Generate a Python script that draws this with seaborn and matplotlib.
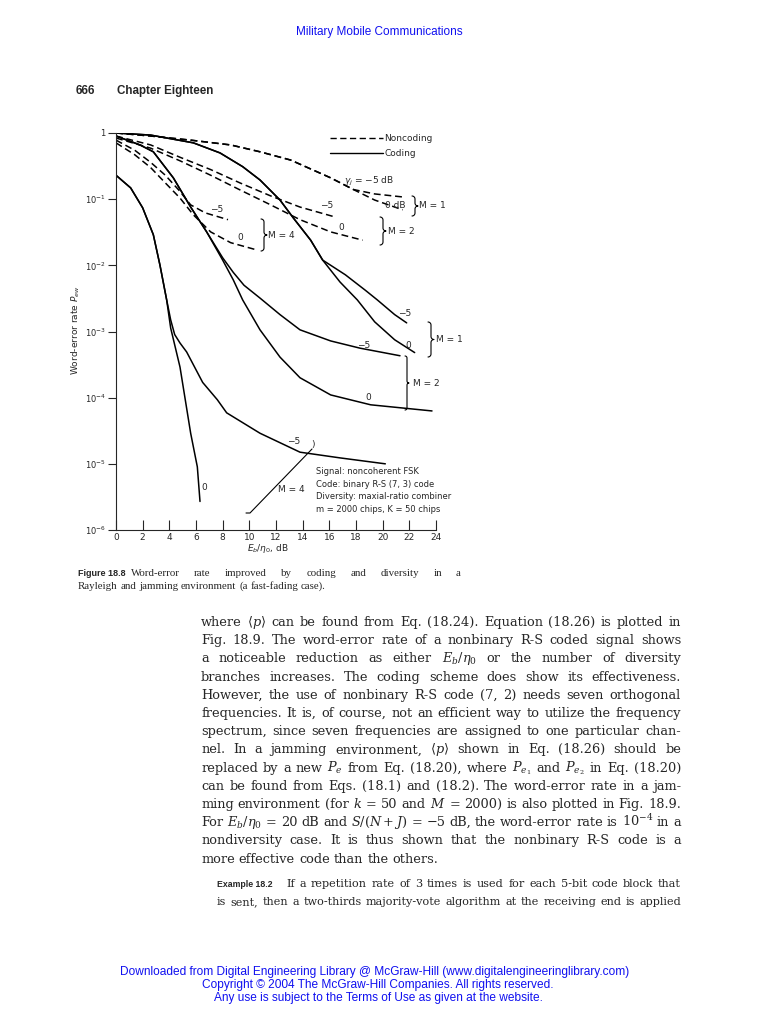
import numpy as np
import pandas as pd
import seaborn as sns
import matplotlib.pyplot as plt
from matplotlib.lines import Line2D
from matplotlib.ticker import NullLocator
from matplotlib.transforms import IdentityTransform

W, H = 757, 1024

# values: Eb/eta0 (dB) vs word-error rate
# noncoding (dashed)
nc_m1_5_x = [0, 2.6, 5.6, 8.6, 10.8, 13.1, 16.1, 17.8, 19.4, 21.5]
nc_m1_5_y = [1.0, 0.90, 0.78, 0.66, 0.52, 0.39, 0.21, 0.14, 0.12, 0.108]
nc_m1_0_x = [0, 2.6, 5.6, 8.6, 10.8, 13.1, 16.1, 17.8, 19.4, 21.5]
nc_m1_0_y = [1.0, 0.90, 0.78, 0.66, 0.52, 0.39, 0.21, 0.14, 0.097, 0.069]
nc_m2_5_x = [0, 2.6, 4.8, 7.1, 9.3, 11.6, 13.8, 16.4]
nc_m2_5_y = [0.90, 0.66, 0.43, 0.28, 0.176, 0.112, 0.076, 0.054]
nc_m2_0_x = [0, 2.6, 4.8, 7.1, 9.3, 11.6, 13.8, 16.1, 18.5]
nc_m2_0_y = [0.84, 0.59, 0.38, 0.23, 0.138, 0.082, 0.049, 0.032, 0.024]
nc_m4_5_x = [0, 1.4, 2.6, 3.7, 4.7, 5.6, 6.7, 8.4]
nc_m4_5_y = [0.78, 0.55, 0.36, 0.23, 0.138, 0.082, 0.062, 0.049]
nc_m4_0_x = [0, 1.4, 2.6, 3.7, 4.8, 5.8, 7.1, 8.6, 10.6]
nc_m4_0_y = [0.71, 0.47, 0.30, 0.176, 0.104, 0.058, 0.032, 0.022, 0.017]

# coding (solid)
c_m1_5_x = [0, 2.6, 5.8, 7.8, 9.5, 10.8, 12.3, 13.3, 14.6, 15.5, 17.2, 18.7, 19.6, 20.9, 21.8]
c_m1_5_y = [1.0, 0.93, 0.71, 0.50, 0.31, 0.195, 0.097, 0.052, 0.024, 0.012,
            7.2e-3, 4.2e-3, 3.0e-3, 1.8e-3, 1.35e-3]
c_m1_0_x = [0, 2.6, 5.8, 7.8, 9.5, 10.8, 12.3, 13.3, 14.6, 15.5, 16.8, 18.1, 19.4, 20.9, 22.4]
c_m1_0_y = [1.0, 0.93, 0.71, 0.50, 0.31, 0.195, 0.097, 0.052, 0.024, 0.012,
            5.6e-3, 3.0e-3, 1.4e-3, 7.5e-4, 4.8e-4]
c_m2_5_x = [0, 1.8, 2.8, 4.3, 5.6, 6.8, 8.0, 8.8, 9.6, 10.8, 12.3, 13.8, 16.1, 18.3, 21.3]
c_m2_5_y = [0.90, 0.66, 0.52, 0.21, 0.076, 0.032, 0.013, 7.8e-3, 5.0e-3, 3.2e-3, 1.8e-3,
            1.06e-3, 7.2e-4, 5.6e-4, 4.3e-4]
c_m2_0_x = [0, 1.8, 2.8, 4.3, 5.6, 6.8, 8.0, 8.8, 9.5, 10.8, 12.3, 13.8, 16.1, 19.1, 23.7]
c_m2_0_y = [0.90, 0.66, 0.52, 0.21, 0.076, 0.032, 0.012, 6.0e-3, 3.0e-3, 1.06e-3, 4.1e-4,
            2.0e-4, 1.1e-4, 7.8e-5, 6.3e-5]
c_m4_5_x = [0, 1.1, 2.0, 2.8, 3.3, 3.8, 4.1, 4.4, 4.8, 5.3, 6.5, 7.6, 8.3, 10.8, 13.8, 16.8, 20.2]
c_m4_5_y = [0.23, 0.148, 0.074, 0.029, 0.010, 3.0e-3, 1.5e-3, 9.0e-4, 6.7e-4, 4.9e-4, 1.7e-4,
            9.3e-5, 5.9e-5, 2.9e-5, 1.5e-5, 1.23e-5, 1.0e-5]
c_m4_0_x = [0, 1.1, 2.0, 2.8, 3.3, 3.8, 4.1, 4.8, 5.6, 6.1, 6.3]
c_m4_0_y = [0.23, 0.148, 0.074, 0.029, 0.010, 3.0e-3, 1.13e-3, 2.9e-4, 2.9e-5, 9.0e-6, 2.7e-6]

xticks = [0, 2, 4, 6, 8, 10, 12, 14, 16, 18, 20, 22, 24]
yticks = [1, 1e-1, 1e-2, 1e-3, 1e-4, 1e-5, 1e-6]
ytick_labels = ["1", "$10^{-1}$", "$10^{-2}$", "$10^{-3}$", "$10^{-4}$", "$10^{-5}$", "$10^{-6}$"]

info_lines = ["Signal: noncoherent FSK",
              "Code: binary R-S (7, 3) code",
              "Diversity: maxial-ratio combiner",
              "m = 2000 chips, K = 50 chips"]

body_lines = [
    r"where $\langle{p}\rangle$ can be found from Eq. (18.24). Equation (18.26) is plotted in",
    "Fig. 18.9. The word-error rate of a nonbinary R-S coded signal shows",
    r"a noticeable reduction as either $E_b/\eta_0$ or the number of diversity",
    "branches increases. The coding scheme does show its effectiveness.",
    "However, the use of nonbinary R-S code (7, 2) needs seven orthogonal",
    "frequencies. It is, of course, not an efficient way to utilize the frequency",
    "spectrum, since seven frequencies are assigned to one particular chan-",
    r"nel. In a jamming environment, $\langle{p}\rangle$ shown in Eq. (18.26) should be",
    r"replaced by a new $P_e$ from Eq. (18.20), where $P_{e_1}$ and $P_{e_2}$ in Eq. (18.20)",
    "can be found from Eqs. (18.1) and (18.2). The word-error rate in a jam-",
    "ming environment (for $k$ = 50 and $M$ = 2000) is also plotted in Fig. 18.9.",
    r"For $E_b/\eta_0$ = 20 dB and $S/(N+J)$ = −5 dB, the word-error rate is $10^{-4}$ in a",
    "nondiversity case. It is thus shown that the nonbinary R-S code is a",
    "more effective code than the others.",
]

curves = {
    "nc_m1_5": (nc_m1_5_x, nc_m1_5_y, "Noncoding"),
    "nc_m1_0": (nc_m1_0_x, nc_m1_0_y, "Noncoding"),
    "nc_m2_5": (nc_m2_5_x, nc_m2_5_y, "Noncoding"),
    "nc_m2_0": (nc_m2_0_x, nc_m2_0_y, "Noncoding"),
    "nc_m4_5": (nc_m4_5_x, nc_m4_5_y, "Noncoding"),
    "nc_m4_0": (nc_m4_0_x, nc_m4_0_y, "Noncoding"),
    "c_m1_5": (c_m1_5_x, c_m1_5_y, "Coding"),
    "c_m1_0": (c_m1_0_x, c_m1_0_y, "Coding"),
    "c_m2_5": (c_m2_5_x, c_m2_5_y, "Coding"),
    "c_m2_0": (c_m2_0_x, c_m2_0_y, "Coding"),
    "c_m4_5": (c_m4_5_x, c_m4_5_y, "Coding"),
    "c_m4_0": (c_m4_0_x, c_m4_0_y, "Coding"),
}
rows = []
for name, (xs, ys, kind) in curves.items():
    for x, y in zip(xs, ys):
        rows.append((x, y, name, kind))
df = pd.DataFrame(rows, columns=["ebno", "pew", "curve", "kind"])

sns.set_style("ticks")
plt.rcParams["font.family"] = ["DejaVu Sans"]
plt.rcParams["mathtext.fontset"] = "dejavusans"

fig = plt.figure(figsize=(W / 100, H / 100), dpi=100)
fig.patch.set_facecolor("white")
ax = fig.add_axes([116 / W, 1 - 530 / H, 320 / W, 397 / H])
ax.set_yscale("log")

dash = (4.5, 2.5)
sns.lineplot(data=df, x="ebno", y="pew", units="curve", estimator=None, style="kind",
             dashes={"Noncoding": dash, "Coding": ""}, color="black", lw=1.1,
             legend=False, sort=False, ax=ax)

ax.set_xlim(0, 24)
ax.set_ylim(1e-6, 1)
ax.set_xticks(xticks)
ax.set_yticks(yticks, ytick_labels)
ax.yaxis.set_minor_locator(NullLocator())
ax.tick_params(axis="x", direction="in", length=7, width=0.8, labelsize=6.5, pad=2)
ax.tick_params(axis="y", direction="out", length=6, width=0.8, labelsize=6.0, pad=1.5)
for s in ["top", "right"]:
    ax.spines[s].set_visible(False)
for s in ["left", "bottom"]:
    ax.spines[s].set_linewidth(0.8)
ax.set_facecolor("white")

ax.set_xlabel(r"$E_b/\eta_0$, dB", fontsize=6.5)
ax.xaxis.set_label_coords((268 - 116) / 320, (530 - 542) / 397)
ax.set_ylabel(r"Word-error rate $P_{ew}$", fontsize=6.5)
ax.yaxis.set_label_coords((82 - 116) / 320, (530 - 330) / 397)

handles = [Line2D([], [], color="k", lw=1.0, ls=(0, dash)),
           Line2D([], [], color="k", lw=1.0)]
ax.legend(handles, ["Noncoding", "Coding"], loc="upper left", frameon=False,
          bbox_to_anchor=((330 - 116) / 320, (530 - 134) / 397), borderpad=0, borderaxespad=0,
          handlelength=5.9, handletextpad=0.1, labelspacing=0.65, fontsize=6.5)


def ptext(px, py, s, **kw):
    return fig.text(px / W, 1 - py / H, s, **kw)


def page_line(xs, ys, lw=0.8):
    fig.add_artist(Line2D(np.asarray(xs, float), H - np.asarray(ys, float),
                          transform=IdentityTransform(), color="k", lw=lw))


def brace(x0, y0, y1, w=6):
    # right-facing curly brace in page pixels
    r = w / 2
    ym = (y0 + y1) / 2
    t = np.linspace(0, np.pi / 2, 10)
    xs = list(x0 + r * np.sin(t)) + list(x0 + 2 * r - r * np.cos(t))
    ys = list(y0 + r - r * np.cos(t)) + list(ym - r + r * np.sin(t))
    xs2 = list(x0 + 2 * r - r * np.cos(t[::-1])) + list(x0 + r * np.sin(t[::-1]))
    ys2 = list(ym + r - r * np.sin(t[::-1])) + list(y1 - r + r * np.cos(t[::-1]))
    page_line(xs + xs2, ys + ys2)


# curve annotations (page pixels)
annot = [
    (r"$\gamma_j$ = −5 dB", 344, 181, "left"),
    ("0 dB", 385, 206, "left"),
    ("M = 1", 419, 206, "left"),
    ("−5", 327, 206, "center"),
    ("0", 341, 228, "center"),
    ("M = 2", 388, 231, "left"),
    ("−5", 217, 210, "center"),
    ("0", 240, 237, "center"),
    ("M = 4", 268, 235, "left"),
    ("−5", 405, 313, "center"),
    ("M = 1", 436, 339, "left"),
    ("−5", 364, 345, "center"),
    ("0", 408, 345, "center"),
    ("M = 2", 413, 383, "left"),
    ("0", 368, 398, "center"),
    ("−5", 294, 442, "center"),
    ("0", 204, 488, "center"),
    ("M = 4", 278, 490, "left"),
]
for s, px, py, ha in annot:
    ptext(px, py, s, fontsize=6.5, ha=ha, va="center")

for x0, y0, y1 in [(412, 196, 216), (380, 217, 245), (261, 219, 251), (428, 322, 357)]:
    brace(x0, y0, y1)
brace(405, 356, 410, w=4)
page_line([312, 250, 246], [449, 513, 513])
ptext(313, 444, ")", fontsize=6.5, ha="center", va="center")

for i, s in enumerate(info_lines):
    ptext(316, 472 + i * 12.4, s, fontsize=6, ha="left", va="center")

# ---- page text ----
r = fig.canvas.get_renderer()


def width_of(s, **kw):
    t = fig.text(0, 0, s, **kw)
    w = t.get_window_extent(renderer=r).width
    t.remove()
    return w


def fit_size(s, target, **kw):
    return 10 * target / width_of(s, fontsize=10, **kw)


def justify(line, x0, x1, base, last=False, **kw):
    words = line.split(" ")
    ts = [fig.text(0, 1 - base / H, w, va="baseline", ha="left", **kw) for w in words]
    ws = [t.get_window_extent(renderer=r).width for t in ts]
    if last or len(ws) == 1:
        gap = width_of("a a", **kw) - width_of("aa", **kw)
    else:
        gap = (x1 - x0 - sum(ws)) / (len(ws) - 1)
    x = x0
    for t, w in zip(ts, ws):
        t.set_x(x / W)
        x += w + gap


sans = dict(family="Liberation Sans")
serif = dict(family="DejaVu Serif", math_fontfamily="dejavuserif")
cap_serif = dict(family="Liberation Serif")
blue = "#1010f0"

s = fit_size("Military Mobile Communications", 166, **sans)
ptext(296, 35, "Military Mobile Communications", fontsize=s, color=blue, va="baseline", **sans)

s = fit_size("Chapter Eighteen", 97, weight="bold", **sans)
ptext(76, 94, "666", fontsize=s, weight="bold", va="baseline", **sans)
ptext(117, 94, "Chapter Eighteen", fontsize=s, weight="bold", va="baseline", **sans)

# body
body_s = 10 * min(480 / width_of(l, fontsize=10, **serif) for l in body_lines[:-1])
for i, line in enumerate(body_lines):
    justify(line, 201, 681, 626 + i * 18.2, last=(i == len(body_lines) - 1), fontsize=body_s, **serif)

# caption
cap1 = "Word-error rate improved by coding and diversity in a"
cap2 = "Rayleigh and jamming environment (a fast-fading case)."
s = fit_size(cap2, 246, **cap_serif)
lab = fit_size("Figure 18.8", 48, weight="bold", **sans)
ptext(78, 576, "Figure 18.8", fontsize=lab, weight="bold", va="baseline", **sans)
justify(cap1, 131, 461, 576, fontsize=s, **cap_serif)
justify(cap2, 78, 461, 589, last=True, fontsize=s, **cap_serif)

# example
ex1 = "If a repetition rate of 3 times is used for each 5-bit code block that"
ex2 = "is sent, then a two-thirds majority-vote algorithm at the receiving end is applied"
s = min(fit_size(ex2, 462, **serif), fit_size(ex1, 392, **serif))
lab = fit_size("Example 18.2", 56, weight="bold", **sans)
ptext(217, 887, "Example 18.2", fontsize=lab, weight="bold", va="baseline", **sans)
justify(ex1, 286, 681, 887, fontsize=s, **serif)
justify(ex2, 217, 681, 905, fontsize=s, **serif)

# footer
footer = [("Downloaded from Digital Engineering Library @ McGraw-Hill (www.digitalengineeringlibrary.com)", 120, 630, 975),
          ("Copyright © 2004 The McGraw-Hill Companies. All rights reserved.", 203, 553, 988),
          ("Any use is subject to the Terms of Use as given at the website.", 214, 542, 1001)]
s = fit_size(footer[0][0], footer[0][2] - footer[0][1], **sans)
for txt, x0, x1, yb in footer:
    ptext((x0 + x1) / 2, yb, txt, fontsize=s, color=blue, ha="center", va="baseline", **sans)

fig.savefig("out.png", dpi=100, facecolor="white")
